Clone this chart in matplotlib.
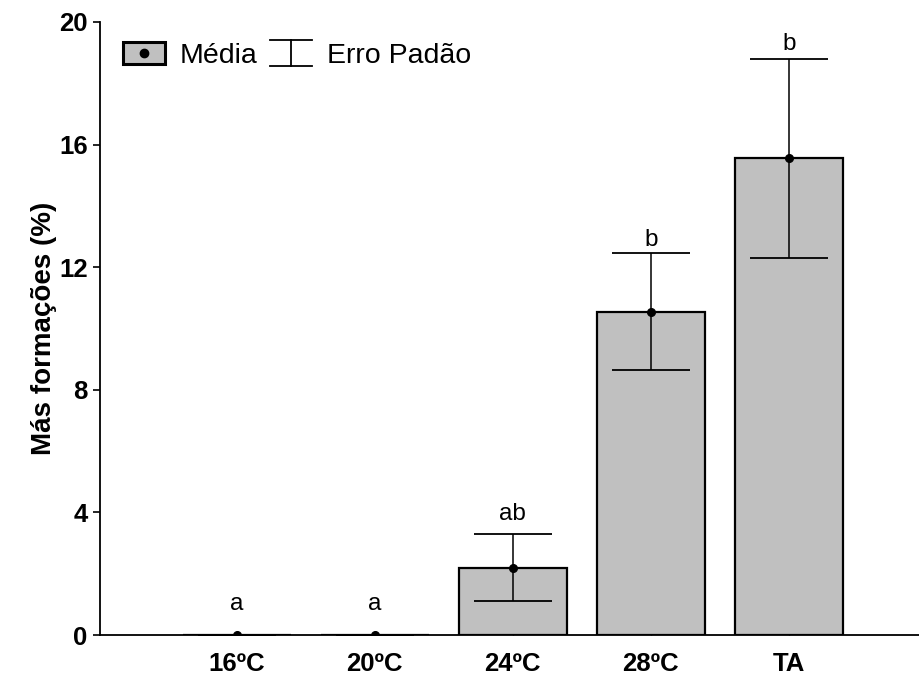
import numpy as np
import matplotlib.pyplot as plt
from matplotlib.legend_handler import HandlerBase
from matplotlib.lines import Line2D
from matplotlib.patches import Rectangle

plt.rcParams["font.family"] = ["Liberation Sans", "DejaVu Sans"]

# Data
categories = ["16ºC", "20ºC", "24ºC", "28ºC", "TA"]
means = [0.0, 0.0, 2.2, 10.55, 15.55]
std_err = [0.0, 0.0, 1.08, 1.9, 3.25]
letters = ["a", "a", "ab", "b", "b"]
letter_y = [0.8, 0.8, 3.75, 12.7, 19.1]
y_ticks = [0, 4, 8, 12, 16, 20]

BAR_COLOR = "#c0c0c0"


class MeanHandler(HandlerBase):
    # grey box with a black dot in the middle
    def create_artists(self, legend, orig_handle, xd, yd, width, height, fontsize, trans):
        rect = Rectangle((xd, yd - 0.05 * height), width, height * 1.1,
                         facecolor=BAR_COLOR, edgecolor="black", linewidth=2.2, transform=trans)
        dot = Line2D([xd + width / 2], [yd + height / 2], marker="o", color="black",
                     markersize=6, transform=trans)
        return [rect, dot]


class ErrHandler(HandlerBase):
    # vertical line with caps at top and bottom
    def create_artists(self, legend, orig_handle, xd, yd, width, height, fontsize, trans):
        lo, hi = yd - 0.13 * height, yd + 1.13 * height
        kw = dict(color="black", linewidth=1.3, transform=trans)
        return [
            Line2D([xd + width / 2, xd + width / 2], [lo, hi], **kw),
            Line2D([xd, xd + width], [lo, lo], **kw),
            Line2D([xd, xd + width], [hi, hi], **kw),
        ]


fig = plt.figure(figsize=(9.2, 6.78), dpi=100)
ax = fig.add_axes([0.1087, 0.0634, 0.8913, 0.9042])

x = np.arange(len(categories))
ax.bar(x, means, width=0.78, color=BAR_COLOR, edgecolor="black", linewidth=1.6, zorder=2)
ax.errorbar(x, means, yerr=std_err, fmt="o", color="black", markersize=5.5,
            elinewidth=1.1, capsize=28, capthick=1.3, zorder=3)

for xi, lab, ly in zip(x, letters, letter_y):
    ax.text(xi, ly, lab, ha="center", va="baseline", fontsize=17.5)

ax.set_xlim(-0.99, 4.95)
ax.set_ylim(0, 20)
ax.set_yticks(y_ticks)
ax.set_xticks(x)
ax.set_xticklabels(categories, fontsize=18.5, fontweight="bold")
ax.set_yticklabels([str(t) for t in y_ticks], fontsize=18.5, fontweight="bold")
ax.tick_params(axis="y", direction="out", length=5, width=1.2, pad=4)
ax.tick_params(axis="x", direction="in", length=3, width=1, pad=12)
ax.set_ylabel("Más formações (%)", fontsize=20, fontweight="bold", labelpad=1)

ax.spines["top"].set_visible(False)
ax.spines["right"].set_visible(False)
ax.spines["left"].set_linewidth(1.3)
ax.spines["bottom"].set_linewidth(1.3)

mean_handle = object()
err_handle = object()
ax.legend([mean_handle, err_handle], ["Média", "Erro Padão"], ncol=2,
          handler_map={mean_handle: MeanHandler(), err_handle: ErrHandler()},
          loc="center left", bbox_to_anchor=(0.028, 0.9445), frameon=False,
          borderaxespad=0, borderpad=0,
          fontsize=20.5, handlelength=1.47, handletextpad=0.53, columnspacing=0.45)

fig.savefig("out.png", dpi=100)
